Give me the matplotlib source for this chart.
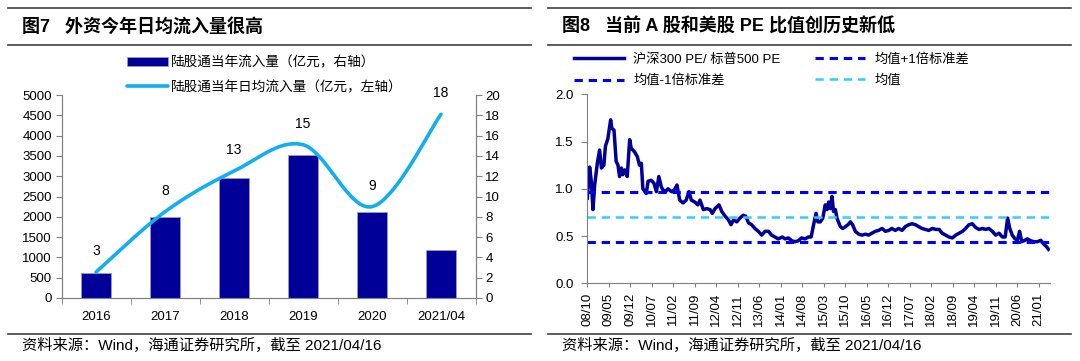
import numpy as np
import matplotlib.pyplot as plt
from matplotlib.lines import Line2D

plt.rcParams['font.family'] = ['Liberation Sans', 'Noto Sans CJK SC']
plt.rcParams['axes.unicode_minus'] = False
plt.rcParams['lines.scale_dashes'] = False

# figure 7 data
years = ['2016', '2017', '2018', '2019', '2020', '2021/04']
annual_inflow = [610, 1995, 2950, 3525, 2110, 1190]
daily_inflow = [2.55, 8.5, 12.5, 15.1, 9.0, 18.1]
daily_labels = ['3', '8', '13', '15', '9', '18']

# figure 8 data (months since 2008/10)
pe_months = [0, 0.76, 1.3, 1.85, 2.4, 3.26, 4.0, 4.6, 5.4, 5.9, 6.7, 7.6, 8.0, 8.7,
             9.4, 10.0, 10.5, 11.1, 11.6, 12.2, 13.0, 13.8, 14.3, 15.4, 16.3, 17.0,
             17.6, 18.1, 19.2, 19.8, 20.8, 21.7, 22.5, 23.3, 24.1, 24.6, 25.4, 26.3,
             27.4, 28.4, 29.2, 30.1, 31.2, 32.2, 33.1, 33.9, 35.0, 36.0, 36.7, 37.8,
             38.9, 40.0, 40.7, 41.6, 42.9, 43.8, 44.9, 46.0, 46.8, 47.6, 48.7, 49.7,
             50.8, 51.6, 52.5, 53.5, 54.6, 55.7, 56.8, 57.9, 59.0, 60.0, 61.1, 62.2,
             63.5, 64.4, 65.5, 66.6, 67.7, 68.7, 69.8, 70.9, 72.0, 72.9, 73.7, 74.5,
             75.1, 75.9, 76.7, 77.5, 78.1, 78.6, 79.2, 79.7, 80.2, 80.8, 81.3, 81.9,
             82.4, 83.2, 84.1, 84.9, 85.7, 86.4, 87.3, 88.4, 89.5, 90.6, 91.6, 92.7,
             93.8, 94.9, 96.0, 97.1, 98.2, 99.2, 100.3, 101.4, 102.5, 103.6, 104.7,
             105.8, 106.9, 107.9, 109.0, 110.1, 111.2, 112.4, 113.5, 114.6, 115.6,
             116.7, 117.8, 118.9, 120.0, 121.1, 122.2, 123.2, 124.3, 125.4, 126.5,
             127.6, 128.7, 129.8, 130.8, 131.9, 133.0, 134.1, 135.2, 136.1, 136.9,
             137.6, 138.4, 139.3, 140.1, 140.8, 141.5, 142.2, 143.3, 144.4, 145.5,
             146.6, 147.7, 148.8, 149.5, 150.2]
pe_ratio = [0.90, 1.23, 1.08, 0.78, 1.04, 1.27, 1.41, 1.22, 1.25, 1.45, 1.53, 1.73, 1.64, 1.62,
            1.29, 1.25, 1.13, 1.22, 1.15, 1.20, 1.13, 1.52, 1.43, 1.39, 1.34, 1.25,
            1.27, 1.00, 0.95, 1.08, 1.09, 1.06, 0.97, 1.13, 1.02, 0.99, 0.97, 1.00,
            0.97, 0.99, 1.04, 0.88, 0.85, 0.88, 0.97, 0.88, 0.86, 0.83, 0.88, 0.78,
            0.79, 0.78, 0.74, 0.79, 0.83, 0.76, 0.71, 0.67, 0.62, 0.67, 0.65, 0.69,
            0.72, 0.71, 0.64, 0.62, 0.58, 0.55, 0.51, 0.55, 0.55, 0.51, 0.49, 0.47,
            0.49, 0.47, 0.48, 0.45, 0.44, 0.45, 0.48, 0.47, 0.49, 0.49, 0.62, 0.74,
            0.65, 0.65, 0.69, 0.83, 0.78, 0.86, 0.79, 0.92, 0.76, 0.78, 0.69, 0.64,
            0.60, 0.58, 0.60, 0.62, 0.65, 0.62, 0.55, 0.52, 0.51, 0.52, 0.51, 0.53,
            0.55, 0.56, 0.58, 0.55, 0.56, 0.58, 0.56, 0.58, 0.56, 0.60, 0.62,
            0.63, 0.62, 0.60, 0.58, 0.57, 0.56, 0.58, 0.57, 0.57, 0.53,
            0.51, 0.49, 0.48, 0.51, 0.53, 0.55, 0.58, 0.62, 0.63, 0.59,
            0.57, 0.58, 0.57, 0.58, 0.55, 0.51, 0.53, 0.49, 0.49, 0.69,
            0.58, 0.51, 0.47, 0.46, 0.55, 0.44, 0.45, 0.47, 0.45, 0.44,
            0.44, 0.455, 0.41, 0.39, 0.36]
pe_upper = 0.97
pe_mean = 0.70
pe_lower = 0.44
pe_ticks = ['08/10', '09/05', '09/12', '10/07', '11/02', '11/09', '12/04', '12/11',
            '13/06', '14/01', '14/08', '15/03', '15/10', '16/05', '16/12', '17/07',
            '18/02', '18/09', '19/04', '19/11', '20/06', '21/01']

NAVY = '#000099'
SKY = '#12AEEF'
BLUE = '#0000FF'
LIGHT = '#33CCFF'
GRAY = '#808080'


def smooth(xs, ys, n=40):
    # excel style smoothed line (catmull-rom bezier)
    p = np.column_stack([xs, ys]).astype(float)
    p = np.vstack([p[0], p, p[-1]])
    t = np.linspace(0, 1, n)[:, None]
    out = []
    for i in range(1, len(p) - 2):
        p0, p1, p2, p3 = p[i - 1], p[i], p[i + 1], p[i + 2]
        c1 = p1 + (p2 - p0) / 6
        c2 = p2 - (p3 - p1) / 6
        seg = (1 - t) ** 3 * p1 + 3 * (1 - t) ** 2 * t * c1 + 3 * (1 - t) * t ** 2 * c2 + t ** 3 * p2
        out.append(seg if i == 1 else seg[1:])
    return np.vstack(out)


W, H = 1080, 361
fig = plt.figure(figsize=(W / 100, H / 100), dpi=100)


def box(x0, y0, x1, y1):
    return [x0 / W, 1 - y1 / H, (x1 - x0) / W, (y1 - y0) / H]


def hline(x0, x1, y, lw=1.2):
    fig.add_artist(Line2D([x0 / W, x1 / W], [1 - y / H, 1 - y / H],
                          transform=fig.transFigure, color='#404040', lw=lw))


# frame rules, titles, sources
for off in (0, 540):
    hline(off + 8, off + 531, 7.5)
    hline(off + 8, off + 531, 44.5)
    hline(off + 8, off + 531, 334)
    fig.text((off + 22) / W, 1 - 345 / H, '资料来源：Wind，海通证券研究所，截至 2021/04/16',
             fontsize=11, va='center', ha='left')
fig.text(22 / W, 1 - 27 / H, '图7   外资今年日均流入量很高', fontsize=13,
         fontweight='bold', va='center', ha='left')
fig.text(562 / W, 1 - 27 / H, '图8   当前 A 股和美股 PE 比值创历史新低', fontsize=13,
         fontweight='bold', va='center', ha='left')

# ---- figure 7 ----
ax = fig.add_axes(box(61.5, 95, 475.5, 298))
x = np.arange(len(years))
bars = ax.bar(x, annual_inflow, width=0.44, color=NAVY, edgecolor='#9a9ad0',
              linewidth=0.6, label='陆股通当年流入量（亿元，右轴）')
ax.set_xlim(-0.5, len(years) - 0.5)
ax.set_ylim(0, 5000)
ax.set_yticks(np.arange(0, 5001, 500))
ax.set_xticks(x)
ax.set_xticklabels(years)
ax.set_xticks(np.arange(-0.5, len(years), 1), minor=True)
ax.tick_params(axis='x', which='major', length=0, pad=9, labelsize=9.5)
ax.tick_params(axis='x', which='minor', length=4, color=GRAY, direction='out')
ax.tick_params(axis='y', length=4, color=GRAY, labelsize=9.5, pad=3)
ax.spines['top'].set_visible(False)
for s in ('left', 'right', 'bottom'):
    ax.spines[s].set_color(GRAY)

ax2 = ax.twinx()
ax2.set_ylim(0, 20)
ax2.set_yticks(np.arange(0, 21, 2))
ax2.tick_params(axis='y', length=4, color=GRAY, labelsize=9.5, pad=3)
ax2.spines['top'].set_visible(False)
for s in ('left', 'right', 'bottom'):
    ax2.spines[s].set_color(GRAY)
curve = smooth(x, daily_inflow)
line, = ax2.plot(curve[:, 0], curve[:, 1], color=SKY, lw=2.6, solid_capstyle='round',
                 label='陆股通当年日均流入量（亿元，左轴）')
for xi, yi, lab in zip(x, daily_inflow, daily_labels):
    ax2.annotate(lab, (xi, yi), xytext=(0, 15), textcoords='offset points',
                 ha='center', va='center', fontsize=10)

ax2.legend([bars, line], [bars.get_label(), line.get_label()],
           loc='upper left', bbox_to_anchor=(127 / W, 1 - 55 / H),
           bbox_transform=fig.transFigure, frameon=False, fontsize=9.8,
           handlelength=3.0, handletextpad=0.2, labelspacing=0.8, borderpad=0,
           borderaxespad=0, handleheight=0.6)

# ---- figure 8 ----
bx = fig.add_axes(box(587.3, 94.3, 1050, 283.3))
main, = bx.plot(pe_months, pe_ratio, color=NAVY, lw=2.5, solid_joinstyle='round',
                label='沪深300 PE/ 标普500 PE')
up = bx.axhline(pe_upper, color=BLUE, lw=2.2, dashes=(6, 4.2), label='均值+1倍标准差')
lo = bx.axhline(pe_lower, color=BLUE, lw=2.2, dashes=(6, 4.2), label='均值-1倍标准差')
mn = bx.axhline(pe_mean, color=LIGHT, lw=1.8, dashes=(6, 4.2), label='均值')
bx.set_xlim(0, 150.7)
bx.set_ylim(0, 2.0)
bx.set_yticks(np.arange(0, 2.01, 0.5))
bx.set_yticklabels([f'{v:.1f}' for v in np.arange(0, 2.01, 0.5)])
bx.set_xticks(np.arange(len(pe_ticks)) * 7)
bx.set_xticklabels(pe_ticks, rotation=90)
bx.tick_params(axis='x', length=3, color=GRAY, labelsize=9.5, pad=4)
bx.tick_params(axis='y', length=4, color=GRAY, labelsize=9.5, pad=6)
for s in ('top', 'right'):
    bx.spines[s].set_visible(False)
for s in ('left', 'bottom'):
    bx.spines[s].set_color(GRAY)
# column-major fill: left column main / lower band, right column upper band / mean
order = [main, lo, up, mn]
bx.legend(order, [h.get_label() for h in order],
          ncol=2, loc='upper left', bbox_to_anchor=(574 / W, 1 - 53 / H),
          bbox_transform=fig.transFigure, frameon=False, fontsize=9.5,
          handlelength=3.8, handletextpad=0.7, labelspacing=0.7, columnspacing=2.6,
          borderpad=0, borderaxespad=0)

fig.savefig('out.png', dpi=100)
